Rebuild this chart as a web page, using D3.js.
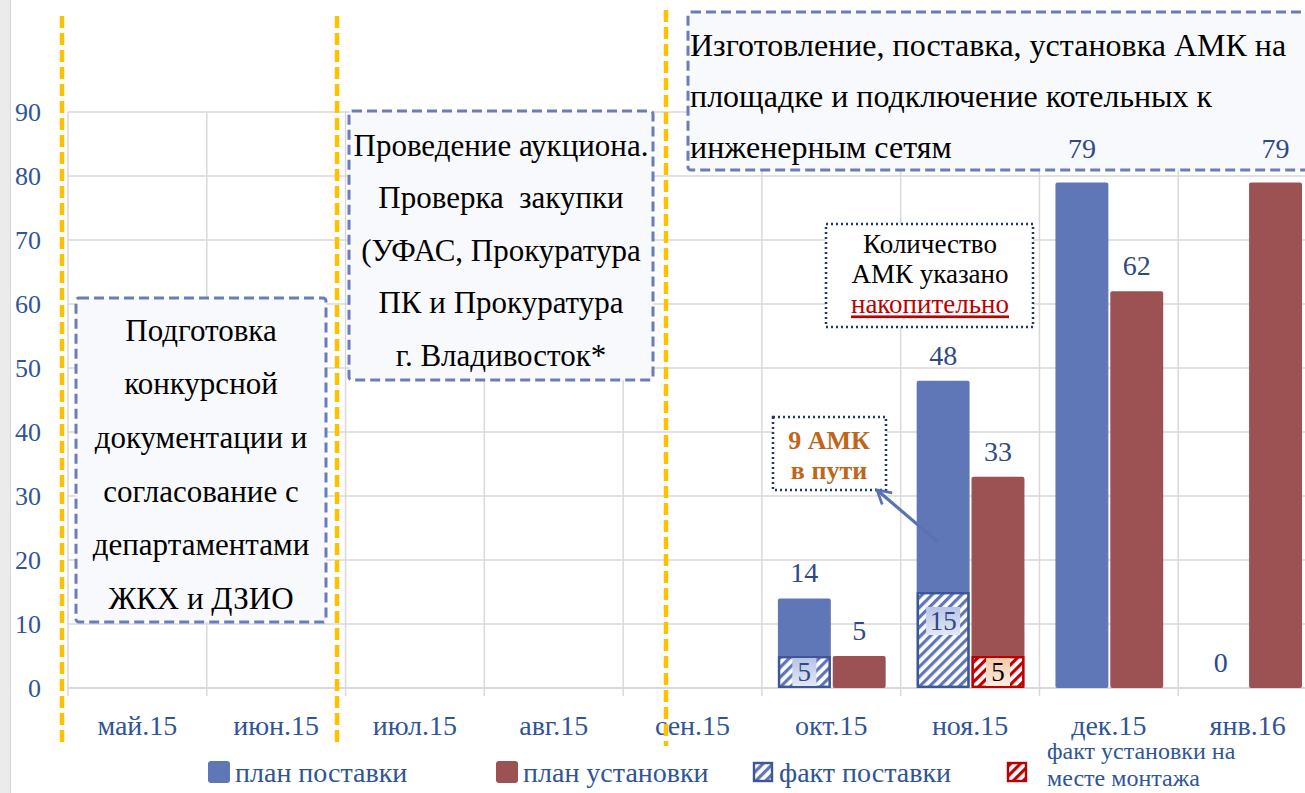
<!DOCTYPE html>
<html>
<head>
<meta charset="utf-8">
<script src="https://cdn.jsdelivr.net/npm/d3@7"></script>
<style>
  html, body { margin: 0; padding: 0; background: #fff; }
  svg { display: block; }
  svg text { font-family: "Liberation Serif", "Times New Roman", serif; }
</style>
</head>
<body>
<div id="chart"></div>
<script>
// Months and series (cumulative number of AMK)
const months = ['май.15', 'июн.15', 'июл.15', 'авг.15', 'сен.15', 'окт.15', 'ноя.15', 'дек.15', 'янв.16'];
const planDelivery = [null, null, null, null, null, 14, 48, 79, 0];
const planInstall  = [null, null, null, null, null, 5, 33, 62, 79];
const factDelivery = [null, null, null, null, null, 5, 15, null, null];
const factInstall  = [null, null, null, null, null, null, 5, null, null];
const yTicks = [0, 10, 20, 30, 40, 50, 60, 70, 80, 90];

const legendNames = ['план поставки', 'план установки', 'факт поставки', 'факт установки на|месте монтажа'];

const stageTexts = [
    ['Подготовка', 'конкурсной', 'документации и', 'согласование с', 'департаментами', 'ЖКХ и ДЗИО'],
    ['Проведение аукциона.', 'Проверка  закупки', '(УФАС, Прокуратура', 'ПК и Прокуратура', 'г. Владивосток*'],
    ['Изготовление, поставка, установка АМК на', 'площадке и подключение котельных к', 'инженерным сетям']
];

const W = 1305, H = 793;
const margin = { top: 112, left: 68, bottom: 105 };
const plotRight = 1317;
const serif = '"Liberation Serif", "Times New Roman", serif';

let svg = d3.select('#chart').append('svg')
    .attr('width', W)
    .attr('height', H)
    .attr('font-family', serif);

let defs = svg.append('defs');

function hatch(id, color) {
    let p = defs.append('pattern')
        .attr('id', id)
        .attr('patternUnits', 'userSpaceOnUse')
        .attr('width', 7)
        .attr('height', 7)
        .attr('patternTransform', 'rotate(45)');
    p.append('rect').attr('width', 7).attr('height', 7).attr('fill', '#fff');
    p.append('rect').attr('width', 3.2).attr('height', 7).attr('fill', color);
}
hatch('hatch-blue', '#5F77B6');
hatch('hatch-red', '#C00000');

function grad(id, c1, c2) {
    let g = defs.append('linearGradient').attr('id', id)
        .attr('x1', 0).attr('y1', 0).attr('x2', 0).attr('y2', 1);
    g.append('stop').attr('offset', '0%').attr('stop-color', c1);
    g.append('stop').attr('offset', '100%').attr('stop-color', c2);
}
grad('lab-blue', '#B8C4E6', '#E3E8F6');
grad('lab-red', '#F7C9A6', '#FDEEE2');

defs.append('marker')
    .attr('id', 'arrow')
    .attr('viewBox', '0 0 10 10')
    .attr('refX', 8).attr('refY', 5)
    .attr('markerWidth', 6).attr('markerHeight', 6)
    .attr('orient', 'auto')
    .append('path')
    .attr('d', 'M1,1 L8,5 L1,9')
    .attr('fill', 'none')
    .attr('stroke', '#5A72B3')
    .attr('stroke-width', 1.4);

// Left gray strip
svg.append('rect').attr('x', 0).attr('y', 0).attr('width', 10).attr('height', H).attr('fill', '#EBEBEB');
svg.append('line').attr('x1', 10.5).attr('x2', 10.5).attr('y1', 0).attr('y2', H).attr('stroke', '#D6D6D6');

// Scales
let x0 = d3.scaleBand().domain(months).range([margin.left, plotRight]);
let x1 = d3.scaleBand().domain([0, 1]).range([16, x0.bandwidth() - 15]).paddingInner(0.035);
let y = d3.scaleLinear().domain([0, 90]).range([688, margin.top]);

// Grid
let grid = svg.append('g');
grid.selectAll('.hgrid')
    .data(yTicks)
    .enter().append('line')
    .attr('x1', margin.left).attr('x2', plotRight)
    .attr('y1', d => y(d)).attr('y2', d => y(d))
    .attr('stroke', '#D9D9D9')
    .attr('stroke-width', d => d === 0 ? 2.2 : 1.5);

grid.selectAll('.vgrid')
    .data(months.concat(['end']))
    .enter().append('line')
    .attr('x1', (d, i) => margin.left + i * x0.bandwidth())
    .attr('x2', (d, i) => margin.left + i * x0.bandwidth())
    .attr('y1', y(90)).attr('y2', 696)
    .attr('stroke', '#D9D9D9')
    .attr('stroke-width', 1.5);

// Y axis labels
svg.append('g').selectAll('text')
    .data(yTicks)
    .enter().append('text')
    .attr('x', 41)
    .attr('y', d => y(d))
    .attr('dy', '0.35em')
    .attr('text-anchor', 'end')
    .attr('fill', '#2F5597')
    .style('font-size', '26px')
    .text(d => d);

// X axis labels
svg.append('g').selectAll('text')
    .data(months)
    .enter().append('text')
    .attr('x', d => x0(d) + x0.bandwidth() / 2)
    .attr('y', 725)
    .attr('dy', '0.35em')
    .attr('text-anchor', 'middle')
    .attr('fill', '#2F5597')
    .style('font-size', '28px')
    .text(d => d);

// Bars
let series = [
    { values: planDelivery, slot: 0, fill: '#5F77B6' },
    { values: planInstall, slot: 1, fill: '#9C5252' }
];
let facts = [
    { values: factDelivery, slot: 0, fill: 'url(#hatch-blue)', stroke: '#3D5796', lab: 'url(#lab-blue)' },
    { values: factInstall, slot: 1, fill: 'url(#hatch-red)', stroke: '#C00000', lab: 'url(#lab-red)' }
];

let bars = svg.append('g');
series.forEach(function(s) {
    let d = months.map((m, i) => ({ m: m, v: s.values[i] })).filter(d => d.v !== null && d.v > 0);
    bars.selectAll(null)
        .data(d)
        .enter().append('rect')
        .attr('x', d => x0(d.m) + x1(s.slot))
        .attr('y', d => y(d.v))
        .attr('width', x1.bandwidth())
        .attr('height', d => y(0) - y(d.v))
        .attr('rx', 2)
        .attr('fill', s.fill);
});

facts.forEach(function(s) {
    let d = months.map((m, i) => ({ m: m, v: s.values[i] })).filter(d => d.v !== null);
    bars.selectAll(null)
        .data(d)
        .enter().append('rect')
        .attr('x', d => x0(d.m) + x1(s.slot) + 1.2)
        .attr('y', d => y(d.v) + 1.2)
        .attr('width', x1.bandwidth() - 2.4)
        .attr('height', d => y(0) - y(d.v) - 2.4)
        .attr('fill', s.fill)
        .attr('stroke', s.stroke)
        .attr('stroke-width', 2.4);
    let lab = bars.selectAll(null)
        .data(d)
        .enter().append('g')
        .attr('transform', function(d) {
            let h = y(0) - y(d.v);
            return 'translate(' + (x0(d.m) + x1(s.slot) + x1.bandwidth() / 2) + ',' + (y(d.v) + Math.min(h / 2, 29)) + ')';
        });
    lab.append('rect')
        .attr('x', d => d.v >= 10 ? -17 : -12)
        .attr('y', -14)
        .attr('width', d => d.v >= 10 ? 34 : 24)
        .attr('height', 28)
        .attr('fill', s.lab);
    lab.append('text')
        .attr('dy', '0.35em')
        .attr('text-anchor', 'middle')
        .attr('fill', s.slot === 0 ? '#2E4A86' : '#000')
        .style('font-size', '27px')
        .text(d => d.v);
});

// Yellow stage dividers
let dividers = [62, 337, 666];
svg.append('g').selectAll('line')
    .data(dividers)
    .enter().append('line')
    .attr('x1', d => d).attr('x2', d => d)
    .attr('y1', (d, i) => i === 2 ? 10 : 16)
    .attr('y2', 746)
    .attr('stroke', '#FFC000')
    .attr('stroke-width', 4.5)
    .attr('stroke-dasharray', '12,5');

// Stage boxes
function stageBox(x, yTop, w, h, lines, align, lineH, firstY, size) {
    let g = svg.append('g');
    g.append('rect')
        .attr('x', x).attr('y', yTop)
        .attr('width', w).attr('height', h)
        .attr('rx', 3)
        .attr('fill', '#F8F9FC')
        .attr('stroke', '#6A7DB8')
        .attr('stroke-width', 3)
        .attr('stroke-dasharray', '10,5');
    g.selectAll('text')
        .data(lines)
        .enter().append('text')
        .attr('x', align === 'middle' ? x + w / 2 : x + 2)
        .attr('y', (d, i) => firstY + i * lineH)
        .attr('dy', '0.35em')
        .attr('text-anchor', align === 'middle' ? 'middle' : 'start')
        .attr('fill', '#000')
        .style('font-size', size + 'px')
        .style('white-space', 'pre')
        .text(d => d);
}
stageBox(76, 298, 250, 324, stageTexts[0], 'middle', 53.6, 330, 31);
stageBox(349, 111, 304, 269, stageTexts[1], 'middle', 52.5, 145, 31);
stageBox(688, 12, 640, 158, stageTexts[2], 'start', 51, 45, 32);

// Value labels above the plan bars (drawn on top of the boxes)
let labels = svg.append('g');
series.forEach(function(s) {
    let d = months.map((m, i) => ({ m: m, v: s.values[i] })).filter(d => d.v !== null);
    labels.selectAll(null)
        .data(d)
        .enter().append('text')
        .attr('x', d => x0(d.m) + x1(s.slot) + x1.bandwidth() / 2)
        .attr('y', d => y(d.v) - (d.v > 70 ? 34 : 26))
        .attr('dy', '0.35em')
        .attr('text-anchor', 'middle')
        .attr('fill', '#2E4A86')
        .style('font-size', '28px')
        .text(d => d.v);
});

// Note: cumulative
let note = svg.append('g');
note.append('rect')
    .attr('x', 826).attr('y', 224).attr('width', 207).attr('height', 103)
    .attr('fill', '#fff')
    .attr('stroke', '#1F3864')
    .attr('stroke-width', 2.5)
    .attr('stroke-dasharray', '2,3');
note.append('text').attr('x', 930).attr('y', 244).attr('dy', '0.35em')
    .attr('text-anchor', 'middle').style('font-size', '27px').text('Количество');
note.append('text').attr('x', 930).attr('y', 274).attr('dy', '0.35em')
    .attr('text-anchor', 'middle').style('font-size', '27px').text('АМК указано');
note.append('text').attr('x', 930).attr('y', 304).attr('dy', '0.35em')
    .attr('text-anchor', 'middle').style('font-size', '27px')
    .attr('fill', '#C00000')
    .style('text-decoration', 'underline')
    .text('накопительно');

// Note: in transit
let transit = svg.append('g');
transit.append('rect')
    .attr('x', 773).attr('y', 417).attr('width', 113).attr('height', 73)
    .attr('fill', '#fff')
    .attr('stroke', '#1F3864')
    .attr('stroke-width', 2.5)
    .attr('stroke-dasharray', '2,3');
transit.append('text').attr('x', 829).attr('y', 440).attr('dy', '0.35em')
    .attr('text-anchor', 'middle').style('font-size', '26px').style('font-weight', 'bold')
    .attr('fill', '#C0651A').text('9 АМК');
transit.append('text').attr('x', 829).attr('y', 470).attr('dy', '0.35em')
    .attr('text-anchor', 'middle').style('font-size', '26px').style('font-weight', 'bold')
    .attr('fill', '#C0651A').text('в пути');
svg.append('line')
    .attr('x1', 938).attr('y1', 542)
    .attr('x2', 877).attr('y2', 490)
    .attr('stroke', '#5A72B3')
    .attr('stroke-width', 3.2)
    .attr('marker-end', 'url(#arrow)');

// Legend
let legendItems = [
    { x: 208, fill: '#5F77B6', stroke: 'none', size: 22 },
    { x: 496, fill: '#9C5252', stroke: 'none', size: 22 },
    { x: 752, fill: 'url(#hatch-blue)', stroke: '#3D5796', size: 18 },
    { x: 1006, fill: 'url(#hatch-red)', stroke: '#C00000', size: 18 }
];
let legend = svg.append('g');
legendItems.forEach(function(it, i) {
    legend.append('rect')
        .attr('x', it.x + (22 - it.size) / 2).attr('y', 772 - it.size / 2)
        .attr('width', it.size).attr('height', it.size)
        .attr('rx', it.stroke === 'none' ? 3 : 0)
        .attr('fill', it.fill)
        .attr('stroke', it.stroke)
        .attr('stroke-width', 2.4);
    let lines = legendNames[i].split('|');
    legend.selectAll(null)
        .data(lines)
        .enter().append('text')
        .attr('x', i === 3 ? 1047 : it.x + 27)
        .attr('y', (d, j) => lines.length > 1 ? 751 + j * 27 : 772)
        .attr('dy', '0.35em')
        .attr('fill', '#2F5597')
        .style('font-size', lines.length > 1 ? '24px' : '28px')
        .text(d => d);
});
</script>
</body>
</html>
